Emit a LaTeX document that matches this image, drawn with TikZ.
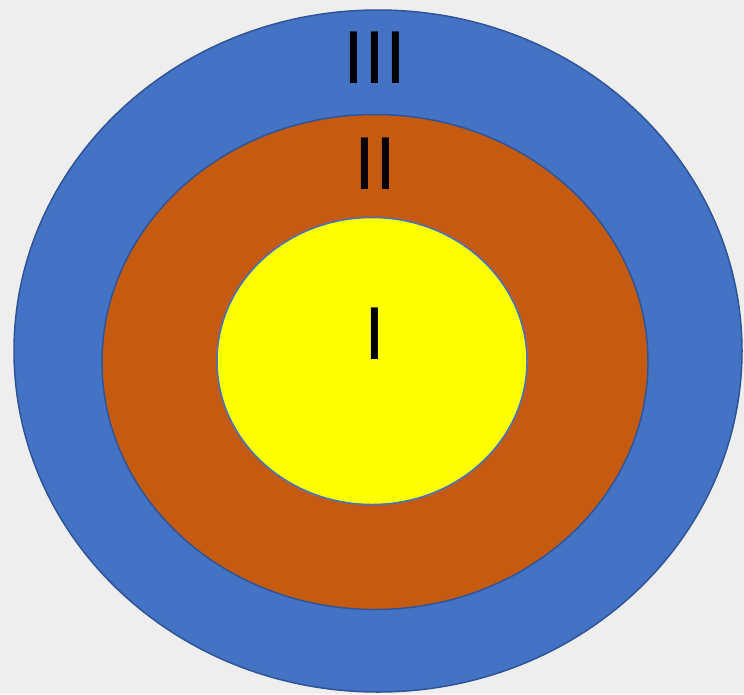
\documentclass[tikz,border=0pt]{standalone}
\usepackage{fontspec}
\setmainfont{Liberation Sans}
\usetikzlibrary{shapes.geometric}
\definecolor{ringblue}{HTML}{4472C4}
\definecolor{ringedge}{HTML}{2F5597}
\definecolor{ringorange}{HTML}{C55A11}
\definecolor{ringyellow}{HTML}{FFFF00}
\definecolor{bggray}{HTML}{EEEEEE}

\begin{document}
\begin{tikzpicture}[x=1pt, y=-1pt,
        ring/.style={draw, ellipse, inner sep=0pt, line width=1.5pt},
        num/.style={anchor=base, inner sep=0pt, font=\fontsize{75}{80}\selectfont}]
      \fill[bggray] (0,0) rectangle (744,694);
      \useasboundingbox (0,0) rectangle (744,694);
      \node[ring, draw=ringedge, fill=ringblue, minimum width=728pt, minimum height=682pt] (outer) at (378,351) {};
      \node[ring, draw=ringedge, fill=ringorange, minimum width=546pt, minimum height=495pt] (middle) at (375,362) {};
      \node[ring, draw=ringblue, fill=ringyellow, minimum width=310pt, minimum height=287pt] (inner) at (372,361) {};
      \node[num] (three) at (375,83) {III};
      \node[num] (two) at (375,189) {II};
      \node[num] (one) at (375,359) {I};
      \end{tikzpicture}
\end{document}
